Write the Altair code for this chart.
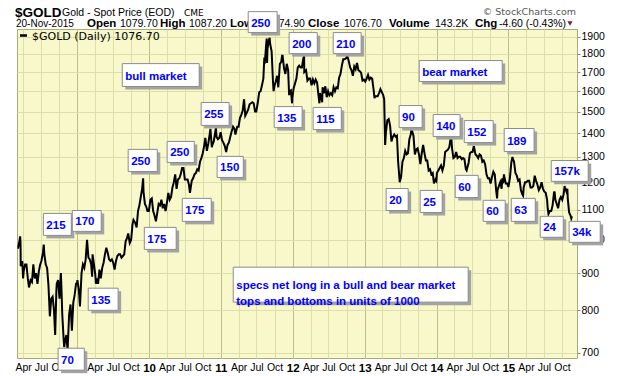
import altair as alt
import pandas as pd
import numpy as np

# ---- Gold spot price, weekly-ish closes ----
d2008 = ["03-03","03-07","03-13","03-17","03-19","03-20","03-28","04-01","04-04","04-11","04-18","04-25",
         "05-01","05-09","05-16","05-23","05-30","06-06","06-13","06-20","06-27","07-03","07-11","07-15",
         "07-18","07-25","08-01","08-08","08-15","08-22","08-29","09-05","09-11","09-17","09-19","09-26",
         "10-03","10-10","10-14","10-17","10-24","10-27","10-31","11-07","11-13","11-21","11-28","12-05",
         "12-12","12-19","12-26","12-31"]
p2008 = [975,975,995,1011,990,920,935,885,905,925,925,885,
         860,880,875,925,885,900,870,905,925,935,960,985,
         955,925,915,865,785,830,835,800,740,850,870,880,
         830,900,840,790,730,712,725,740,705,790,815,750,
         820,840,870,870]

d2009 = ["01-02","01-09","01-15","01-23","01-30","02-06","02-13","02-20","02-27","03-06","03-13","03-18",
         "03-20","03-27","04-03","04-06","04-10","04-17","04-24","05-01","05-08","05-15","05-22","05-29",
         "06-05","06-12","06-19","06-26","07-03","07-10","07-17","07-24","07-31","08-07","08-14","08-21",
         "08-28","09-04","09-11","09-17","09-25","10-02","10-09","10-14","10-23","10-30","11-06","11-13",
         "11-20","11-27","12-02","12-04","12-11","12-18","12-24","12-31"]
p2009 = [880,855,810,900,925,915,940,1000,945,940,925,890,
         955,925,895,870,885,870,910,885,915,930,955,975,
         960,940,935,940,930,910,935,950,955,955,945,950,
         955,995,1005,1020,990,1000,1050,1065,1055,1040,1095,1115,
         1145,1175,1215,1165,1120,1110,1095,1095]

d2010 = ["01-08","01-15","01-22","01-29","02-05","02-12","02-19","02-26","03-05","03-12","03-19","03-26",
         "04-02","04-09","04-16","04-23","04-30","05-07","05-14","05-21","05-28","06-04","06-11","06-18",
         "06-25","07-02","07-09","07-16","07-23","07-28","08-06","08-13","08-20","08-27","09-03","09-10",
         "09-17","09-24","10-01","10-08","10-14","10-22","10-29","11-05","11-09","11-16","11-19","11-26",
         "12-03","12-07","12-10","12-17","12-24","12-31"]
p2010 = [1135,1140,1095,1080,1060,1090,1120,1115,1135,1105,1120,1095,
         1125,1160,1135,1145,1180,1200,1230,1175,1210,1215,1230,1255,
         1255,1210,1210,1210,1190,1160,1205,1215,1230,1235,1250,1245,
         1280,1295,1315,1345,1380,1325,1355,1395,1420,1340,1350,1365,
         1405,1425,1385,1375,1380,1405]

d2011 = ["01-07","01-14","01-21","01-28","02-04","02-11","02-18","02-25","03-04","03-11","03-16","03-25",
         "04-01","04-08","04-15","04-22","04-29","05-05","05-13","05-20","05-27","06-03","06-10","06-17",
         "06-24","06-30","07-08","07-15","07-22","07-29","08-05","08-10","08-12","08-19","08-22","08-24",
         "08-26","09-02","09-06","09-09","09-16","09-23","09-26","09-30","10-07","10-14","10-20","10-28",
         "11-04","11-08","11-11","11-18","11-25","12-02","12-09","12-14","12-16","12-23","12-29","12-30"]
p2011 = [1370,1360,1345,1320,1350,1360,1385,1410,1430,1420,1395,1430,
         1430,1470,1485,1505,1560,1480,1495,1510,1535,1540,1545,1540,
         1500,1500,1545,1595,1600,1630,1665,1780,1745,1850,1890,1750,
         1830,1880,1895,1855,1815,1650,1600,1625,1650,1680,1620,1745,
         1755,1790,1790,1720,1690,1745,1710,1580,1600,1605,1540,1565]

d2012 = ["01-06","01-13","01-20","01-27","02-03","02-10","02-17","02-24","02-28","02-29","03-09","03-16",
         "03-23","03-30","04-06","04-13","04-20","04-27","05-04","05-11","05-16","05-18","05-25","05-30",
         "06-01","06-08","06-15","06-22","06-29","07-06","07-13","07-20","07-27","08-03","08-10","08-17",
         "08-24","08-31","09-07","09-14","09-21","09-28","10-04","10-12","10-19","10-26","11-02","11-09",
         "11-16","11-23","11-30","12-07","12-14","12-21","12-28"]
p2012 = [1615,1640,1665,1725,1735,1725,1725,1775,1790,1700,1710,1655,
         1665,1665,1630,1660,1640,1660,1645,1580,1540,1590,1570,1545,
         1620,1590,1625,1570,1600,1580,1590,1580,1620,1600,1620,1615,
         1670,1690,1735,1770,1770,1775,1790,1760,1725,1710,1680,1730,
         1715,1750,1710,1705,1695,1655,1660]

d2013 = ["01-04","01-11","01-18","01-25","02-01","02-08","02-15","02-20","02-22","03-01","03-08","03-15",
         "03-22","03-29","04-05","04-10","04-12","04-15","04-19","04-26","05-03","05-10","05-17","05-24",
         "05-31","06-07","06-14","06-20","06-28","07-05","07-12","07-19","07-26","08-02","08-09","08-16",
         "08-23","08-27","09-06","09-13","09-20","09-27","10-04","10-11","10-18","10-25","11-01","11-08",
         "11-15","11-22","11-29","12-06","12-13","12-19","12-27","12-31"]
p2013 = [1650,1665,1685,1660,1670,1665,1610,1565,1575,1575,1575,1590,
         1610,1595,1580,1560,1475,1350,1405,1460,1465,1435,1365,1385,
         1395,1385,1390,1280,1200,1220,1280,1295,1325,1310,1315,1375,
         1395,1420,1390,1310,1330,1335,1310,1270,1315,1350,1315,1285,
         1285,1245,1250,1230,1235,1195,1210,1205]

d2014 = ["01-03","01-10","01-17","01-24","01-31","02-07","02-14","02-21","02-28","03-07","03-14","03-17",
         "03-21","03-28","04-04","04-11","04-18","04-25","05-02","05-09","05-16","05-23","05-30","06-03",
         "06-06","06-13","06-20","06-27","07-03","07-10","07-18","07-25","08-01","08-08","08-15","08-22",
         "08-29","09-05","09-12","09-19","09-26","10-03","10-10","10-17","10-24","10-31","11-05","11-07",
         "11-14","11-21","11-28","12-01","12-05","12-10","12-12","12-19","12-26","12-31"]
p2014 = [1235,1245,1255,1265,1245,1265,1320,1325,1330,1340,1380,1385,
         1335,1295,1300,1320,1295,1300,1300,1290,1295,1290,1250,1245,
         1255,1275,1315,1320,1320,1345,1310,1305,1295,1310,1305,1280,
         1285,1270,1230,1215,1215,1195,1220,1240,1230,1170,1140,1170,
         1185,1200,1175,1215,1195,1230,1220,1195,1195,1185]

d2015 = ["01-02","01-09","01-16","01-22","01-23","01-30","02-06","02-13","02-20","02-27","03-06","03-13",
         "03-17","03-20","03-27","04-03","04-10","04-17","04-24","05-01","05-08","05-15","05-22","05-29",
         "06-05","06-12","06-19","06-26","07-02","07-10","07-17","07-20","07-24","07-31","08-07","08-14",
         "08-21","08-24","08-28","09-04","09-11","09-18","09-25","10-02","10-09","10-14","10-16","10-23",
         "10-28","10-30","11-06","11-13","11-17","11-20"]
p2015 = [1185,1215,1275,1300,1295,1280,1235,1225,1205,1210,1170,1155,
         1150,1180,1200,1200,1205,1205,1180,1180,1185,1225,1205,1190,
         1170,1180,1200,1175,1165,1160,1135,1105,1085,1095,1095,1115,
         1160,1165,1135,1120,1105,1135,1145,1135,1155,1185,1180,1165,
         1175,1140,1090,1080,1070,1077]

# ---- annotation boxes (specs net long, in 1000s) ----
box_labels = ["bull market", "250", "200", "255", "135", "250", "250", "150", "175", "175",
              "215", "170", "135", "70",
              "specs net long in a bull and bear market\ntops and bottoms in units of 1000",
              "210", "115", "bear market", "90", "140", "152", "189", "20", "25", "60", "60",
              "63", "24", "157k", "34k"]
box_left = ["2009-08-18", "2011-05-20", "2011-12-14", "2010-09-23", "2011-09-29", "2009-09-17",
            "2010-04-03", "2010-12-13", "2010-06-19", "2009-12-08", "2008-07-13", "2008-12-07",
            "2009-02-26", "2008-09-26", "2011-03-05", "2012-07-25", "2012-04-14", "2013-10-05",
            "2013-06-25", "2013-12-15", "2014-05-22", "2014-12-11", "2013-04-20", "2013-10-10",
            "2014-04-06", "2014-08-26", "2015-01-16", "2015-06-12", "2015-08-07", "2015-11-06"]
box_right = ["2010-09-13", "2011-10-14", "2012-05-05", "2011-02-12", "2012-02-18", "2010-02-12",
             "2010-08-19", "2011-04-25", "2010-11-13", "2010-05-19", "2008-12-02", "2009-05-03",
             "2009-07-28", "2009-02-06", "2014-06-11", "2012-12-14", "2012-09-04", "2014-12-01",
             "2013-10-20", "2014-05-01", "2014-10-16", "2015-05-12", "2013-08-10", "2014-01-30",
             "2014-08-01", "2014-12-16", "2015-05-18", "2015-10-07", "2016-02-11", "2016-04-12"]
box_top = [1746, 2058, 1926, 1544, 1524, 1331, 1365, 1302, 1140, 1040,
           1087, 1097, 858, 709.6, 917, 1926, 1520, 1763, 1529, 1486, 1458, 1422,
           1176, 1169, 1226, 1133, 1140, 1077, 1285, 1060]
box_bottom = [1624, 1926, 1802, 1436, 1426, 1241, 1277, 1218, 1060, 970,
              1014, 1027, 800, 662, 821, 1802, 1417, 1650, 1426, 1386, 1360, 1322,
              1097, 1090, 1143, 1060, 1060, 1008, 1203, 992]

y_ticks = [700, 800, 900, 1000, 1100, 1200, 1300, 1400, 1500, 1600, 1700, 1800, 1900]

# ---- tables ----
years = [(2008, d2008, p2008), (2009, d2009, p2009), (2010, d2010, p2010), (2011, d2011, p2011),
         (2012, d2012, p2012), (2013, d2013, p2013), (2014, d2014, p2014), (2015, d2015, p2015)]
rows = []
for yr, ds, ps in years:
    for d, p in zip(ds, ps):
        rows.append({"date": f"{yr}-{d}", "price": p})
price_df = pd.DataFrame(rows)

boxes = pd.DataFrame({"label": box_labels, "left": box_left, "right": box_right,
                      "top": box_top, "bottom": box_bottom})
boxes["mid"] = np.sqrt(boxes["top"] * boxes["bottom"])

# ---- scales / axes ----
x_vals = []
for yr in range(2008, 2016):
    for m in (1, 4, 7, 10):
        if (yr, m) != (2008, 1):
            x_vals.append(alt.DateTime(year=yr, month=m, date=1, utc=True))

is_year = "utcmonth(datum.value) == 0"
xscale = alt.Scale(type="utc", nice=False,
                   domain=[alt.DateTime(year=2008, month=3, date=1, utc=True),
                           alt.DateTime(year=2015, month=12, date=16, utc=True)])
yscale = alt.Scale(type="log", domain=[688, 1948], nice=False, zero=False)

xaxis = alt.Axis(values=x_vals, title=None, grid=True, ticks=False, domain=False,
                 labelExpr="utcmonth(datum.value) == 0 ? utcFormat(datum.value, '%y') : utcFormat(datum.value, '%b')",
                 labelFont="Liberation Sans", labelColor="black", labelPadding=4,
                 labelFontSize={"condition": {"test": is_year, "value": 11.5}, "value": 10.5},
                 labelFontWeight={"condition": {"test": is_year, "value": "bold"}, "value": "normal"},
                 gridColor={"condition": {"test": is_year, "value": "#bcc088"}, "value": "#dcdfaa"},
                 labelOverlap=False, labelFlush=False)
yaxis = alt.Axis(orient="right", values=y_ticks, format="d", title=None, grid=True,
                 gridColor="#dcdfaa", domain=False, tickSize=3, tickColor="#888888",
                 labelFont="Liberation Sans", labelFontSize=10.5, labelColor="black",
                 labelPadding=1, labelOverlap=False, labelFlush=False)

one = pd.DataFrame({"k": [0]})


def txt(s, x, y, size, weight="normal", font="Liberation Sans", color="black", align="left"):
    return alt.Chart(one).mark_text(text=s, fontSize=size, fontWeight=weight, font=font,
                                    color=color, align=align, baseline="alphabetic").encode(
        x=alt.value(x), y=alt.value(y))


header = [
    txt("$GOLD", -2, -12.5, 13.5, "bold"),
    txt("Gold - Spot Price (EOD)", 45, -13, 10.5),
    txt("CME", 167, -13, 9, font="DejaVu Sans"),
    txt("\u00a9 StockCharts.com", 559, -14, 9.5, font="DejaVu Sans", color="#555555", align="right"),
    txt("20-Nov-2015", -1, -2.3, 10),
    txt("Open", 70, -2.3, 11.5, "bold"),
    txt("1079.70", 103, -2.3, 10.5),
    txt("High", 143, -2.3, 11.5, "bold"),
    txt("1087.20", 172, -2.3, 10.5),
    txt("Low", 213, -2.3, 11.5, "bold"),
    txt("1074.90", 250, -2.3, 10.5),
    txt("Close", 291, -2.3, 11.5, "bold"),
    txt("1076.70", 327, -2.3, 10.5),
    txt("Volume", 372, -2.3, 11.5, "bold"),
    txt("143.2K", 418, -2.3, 10.5),
    txt("Chg", 458, -2.3, 11.5, "bold"),
    txt("-4.60 (-0.43%)", 482, -2.3, 10.5),
    alt.Chart(one).mark_point(shape="triangle-down", filled=True, color="#8b1538", size=28, opacity=1).encode(
        x=alt.value(553), y=alt.value(-5.5)),
    alt.Chart(one).mark_rule(color="black", strokeWidth=2.5).encode(
        x=alt.value(3), x2=alt.value(10), y=alt.value(6.5)),
    txt("$GOLD (Daily) 1076.70", 15, 11, 11, font="DejaVu Sans"),
]

line = alt.Chart(price_df).mark_line(color="black", strokeWidth=2).encode(
    x=alt.X("date:T", scale=xscale, axis=xaxis),
    y=alt.Y("price:Q", scale=yscale, axis=yaxis),
)

shadow = alt.Chart(boxes).mark_rect(fill="#a3a3a3", xOffset=3, x2Offset=3, yOffset=3, y2Offset=3).encode(
    x=alt.X("left:T", scale=xscale, axis=xaxis), x2="right:T",
    y=alt.Y("top:Q", scale=yscale, axis=yaxis), y2="bottom:Q",
)
box = alt.Chart(boxes).mark_rect(fill="white", stroke="#8c8c8c", strokeWidth=1).encode(
    x=alt.X("left:T", scale=xscale, axis=xaxis), x2="right:T",
    y=alt.Y("top:Q", scale=yscale, axis=yaxis), y2="bottom:Q",
)
box_text = alt.Chart(boxes).mark_text(align="left", baseline="middle", dx=3, dy=1.5,
                                      font="Liberation Sans", fontSize=11.5, fontWeight="bold",
                                      color="#0000ff", lineBreak="\n", lineHeight=16).encode(
    x=alt.X("left:T", scale=xscale, axis=xaxis),
    y=alt.Y("mid:Q", scale=yscale, axis=yaxis),
    text="label:N",
)

chart = alt.layer(*header, line, shadow, box, box_text).properties(
    width=560, height=329,
    padding={"left": 17, "top": 29, "right": 43, "bottom": 18},
    autosize=alt.AutoSizeParams(type="none"),
    background="white",
).configure_view(fill="#f8f8ca", stroke="#a8ab7a", strokeWidth=1)

chart.save("out.html", embed_options={"renderer": "svg", "actions": False})
